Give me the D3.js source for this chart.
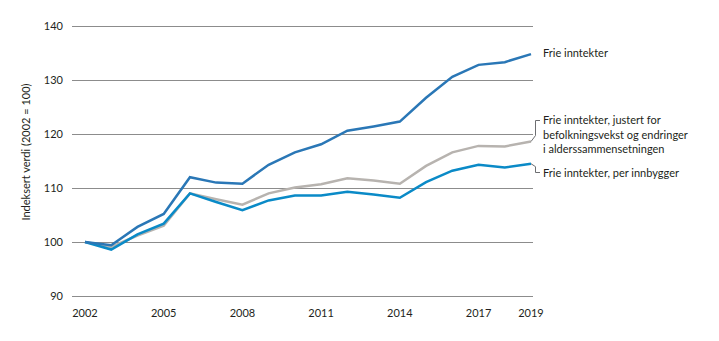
<!DOCTYPE html>
<html><head><meta charset="utf-8">
<script src="https://cdn.jsdelivr.net/npm/d3@7"></script>
<style>
body{margin:0;background:#fff;}
svg{display:block;font-family:Lato,"Open Sans",sans-serif;}
</style></head><body>
<svg id="c" width="719" height="341"></svg>
<script>
const years = [2002,2003,2004,2005,2006,2007,2008,2009,2010,2011,2012,2013,2014,2015,2016,2017,2018,2019];
const frieInntekter = [100,99.4,102.8,105.2,112.0,111.0,110.8,114.3,116.6,118.1,120.6,121.4,122.3,126.7,130.6,132.8,133.3,134.8];
const justert = [100,99.1,101.2,103.0,109.0,107.9,106.9,109.0,110.1,110.7,111.8,111.4,110.8,114.1,116.6,117.8,117.7,118.6];
const perInnbygger = [100,98.6,101.4,103.4,109.0,107.4,105.9,107.7,108.6,108.6,109.3,108.8,108.2,111.1,113.2,114.3,113.8,114.5];
const yTicks = [90,100,110,120,130,140];
const xTicks = [2002,2005,2008,2011,2014,2017,2019];
const yTitle = "Indeksert verdi (2002 = 100)";
const labels = {
  frie: ["Frie inntekter"],
  justert: ["Frie inntekter, justert for","befolkningsvekst og endringer","i alderssammensetningen"],
  per: ["Frie inntekter, per innbygger"]
};

const svg = d3.select("#c");
const x = d3.scaleLinear().domain([2002,2019]).range([85,531]);
const y = d3.scaleLinear().domain([90,140]).range([296,26]);

// gridlines
svg.append("g").selectAll("line").data(yTicks).join("line")
  .attr("x1",72).attr("x2",533)
  .attr("y1",d=>y(d)+0.5).attr("y2",d=>y(d)+0.5)
  .attr("stroke","#8c8c8c").attr("stroke-width",1);

svg.append("g").selectAll("text").data(yTicks).join("text")
  .attr("x",63).attr("y",d=>y(d)+4).attr("text-anchor","end")
  .attr("font-size",11).attr("fill","#231f20").text(d=>d);

svg.append("g").selectAll("text").data(xTicks).join("text")
  .attr("x",d=>x(d)).attr("y",317).attr("text-anchor","middle")
  .attr("font-size",11).attr("fill","#231f20").text(d=>d);

svg.append("text").attr("transform","translate(30,152) rotate(-90)")
  .attr("text-anchor","middle").attr("font-size",11).attr("fill","#231f20").text(yTitle);

const line = d3.line().x((d,i)=>x(years[i])).y(d=>y(d));
const series = [
  {v:justert,c:"#b7b3af"},
  {v:perInnbygger,c:"#0a8ac7"},
  {v:frieInntekter,c:"#2a77b6"}
];
series.forEach(s=>{
  svg.append("path").datum(s.v).attr("d",line).attr("fill","none")
    .attr("stroke",s.c).attr("stroke-width",2.5).attr("stroke-linejoin","miter");
});

// connectors
const ex = x(2019);
svg.append("path").attr("d",`M${ex},${y(justert[17])} L535.5,${y(justert[17])-6} L535.5,120.5 L540,120.5`)
  .attr("fill","none").attr("stroke","#6d6e71").attr("stroke-width",1);
svg.append("path").attr("d",`M${ex},${y(perInnbygger[17])} L535.5,${y(perInnbygger[17])+3} L535.5,172.5 L540,172.5`)
  .attr("fill","none").attr("stroke","#6d6e71").attr("stroke-width",1);

function block(lines, y0){
  const t = svg.append("text").attr("font-size",11).attr("fill","#231f20");
  lines.forEach((l,i)=>t.append("tspan").attr("x",543).attr("y",y0+i*14.5).text(l));
}
block(labels.frie, 57);
block(labels.justert, 124);
block(labels.per, 177);
</script>
</body></html>
